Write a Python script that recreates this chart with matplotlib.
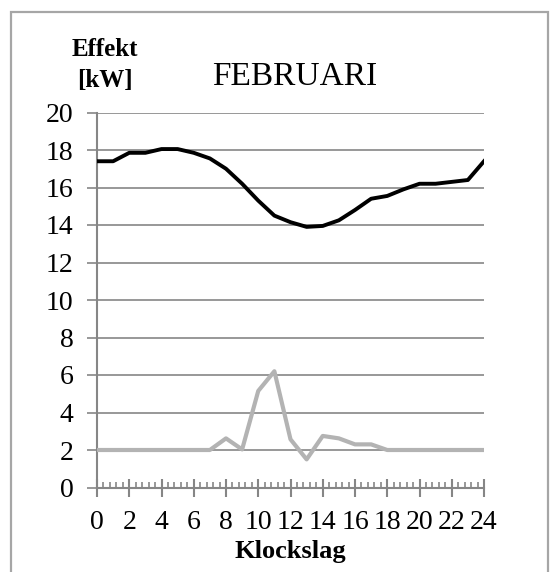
import numpy as np
import matplotlib.pyplot as plt
from matplotlib.patches import Rectangle
from matplotlib.ticker import MultipleLocator

# Hourly power, February
hours = list(range(25))
effekt_total = [17.4, 17.4, 17.85, 17.85, 18.05, 18.05, 17.85, 17.55, 17.0, 16.2,
                15.3, 14.5, 14.15, 13.9, 13.95, 14.25, 14.8, 15.4, 15.55, 15.9,
                16.2, 16.2, 16.3, 16.4, 17.4]
effekt_other = [2.0, 2.0, 2.0, 2.0, 2.0, 2.0, 2.0, 2.0, 2.62, 2.03,
                5.15, 6.2, 2.57, 1.5, 2.75, 2.62, 2.3, 2.3, 2.0, 2.0,
                2.0, 2.0, 2.0, 2.0, 2.0]
yticks = list(range(0, 21, 2))
xticks = list(range(0, 25, 2))

plt.rcParams['font.family'] = ['Liberation Serif', 'DejaVu Serif']
axis_grey = '#868686'

fig = plt.figure(figsize=(5.51, 5.72), dpi=100)
fig.patches.append(Rectangle((11 / 551, -0.05), 537 / 551, 1 - 12 / 572 + 0.05,
                             transform=fig.transFigure, fill=False,
                             edgecolor='#a6a6a6', linewidth=1.6))

ax = fig.add_axes([97 / 551, 1 - 487.5 / 572, 387 / 551, 375 / 572])
ax.plot(hours, effekt_total, color='black', linewidth=2.8, zorder=3)
ax.plot(hours, effekt_other, color='#b3b3b3', linewidth=3.0, zorder=3)

ax.set_xlim(0, 24)
ax.set_ylim(0, 20)
ax.set_yticks(yticks)
ax.set_xticks(xticks)
ax.xaxis.set_minor_locator(MultipleLocator(0.4))
ax.grid(axis='y', color=axis_grey, linewidth=1.2)
ax.set_axisbelow(True)

for side in ['top', 'right']:
    ax.spines[side].set_visible(False)
for side in ['left', 'bottom']:
    ax.spines[side].set_color(axis_grey)
    ax.spines[side].set_linewidth(1.5)

ax.tick_params(axis='y', direction='out', length=7, width=1.2, color=axis_grey,
               labelsize=20, pad=10)
ax.tick_params(axis='x', which='major', direction='inout', length=13, width=1.5,
               color=axis_grey, labelsize=20, pad=10)
ax.tick_params(axis='x', which='minor', direction='in', length=4.5, width=1.2,
               color=axis_grey)

fig.text(295 / 551, 1 - 85 / 572, 'FEBRUARI', ha='center', va='baseline', fontsize=24)
fig.text(105 / 551, 1 - 56 / 572, 'Effekt', ha='center', va='baseline',
         fontsize=18, fontweight='bold')
fig.text(105 / 551, 1 - 87 / 572, '[kW]', ha='center', va='baseline',
         fontsize=18, fontweight='bold')
fig.text(290 / 551, 1 - 558 / 572, 'Klockslag', ha='center', va='baseline',
         fontsize=19, fontweight='bold')

fig.savefig('out.png', dpi=100)
